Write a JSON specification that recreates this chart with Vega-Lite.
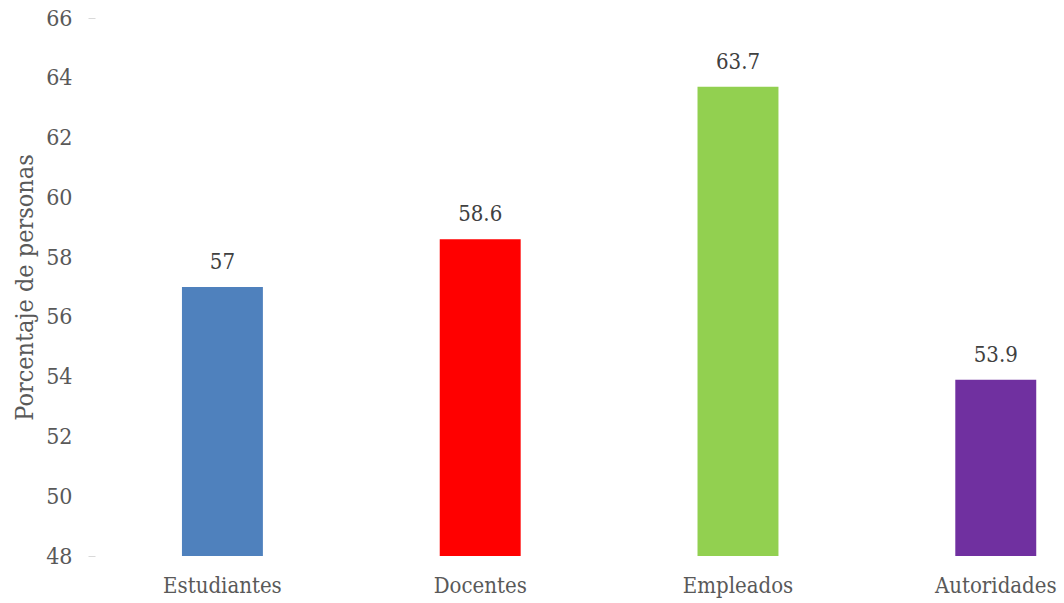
{
  "$schema": "https://vega.github.io/schema/vega-lite/v6.json",
  "width": 969,
  "height": 538,
  "autosize": "none",
  "padding": {"left": 95, "top": 18, "right": 0, "bottom": 47},
  "background": "white",
  "config": {
    "view": {"stroke": null},
    "font": "DejaVu Serif Condensed"
  },
  "data": {
    "values": [
      {"grupo": "Estudiantes", "valor": 57},
      {"grupo": "Docentes", "valor": 58.6},
      {"grupo": "Empleados", "valor": 63.7},
      {"grupo": "Autoridades", "valor": 53.9}
    ]
  },
  "encoding": {
    "x": {
      "field": "grupo",
      "type": "nominal",
      "sort": null,
      "scale": {"paddingInner": 0.686, "paddingOuter": 0.2225, "align": 0.758},
      "axis": {
        "title": null,
        "labelAngle": 0,
        "domain": false,
        "ticks": false,
        "labelPadding": 19,
        "labelFontSize": 22,
        "labelColor": "#595959",
        "labelFont": "DejaVu Serif Condensed"
      }
    },
    "y": {
      "field": "valor",
      "type": "quantitative",
      "scale": {"domain": [48, 66], "nice": false, "zero": false},
      "axis": {
        "title": "Porcentaje de personas",
        "titleFontSize": 25,
        "titleFontWeight": "normal",
        "titleColor": "#595959",
        "titleFont": "DejaVu Serif Condensed",
        "titleX": -71,
        "titleY": 269,
        "titleAngle": -90,
        "titleAlign": "center",
        "titleBaseline": "middle",
        "values": [48, 50, 52, 54, 56, 58, 60, 62, 64, 66],
        "domain": false,
        "grid": false,
        "tickSize": 7,
        "tickColor": {"expr": "datum.value == 48 || datum.value == 66 ? '#d9d9d9' : 'transparent'"},
        "labelPadding": 16,
        "labelFontSize": 23,
        "labelColor": "#595959",
        "labelFont": "DejaVu Serif Condensed"
      }
    }
  },
  "layer": [
    {
      "mark": {"type": "bar", "clip": true},
      "encoding": {
        "color": {
          "field": "grupo",
          "type": "nominal",
          "sort": null,
          "scale": {
            "domain": ["Estudiantes", "Docentes", "Empleados", "Autoridades"],
            "range": ["#4F81BD", "#FF0000", "#92D050", "#7030A0"]
          },
          "legend": null
        }
      }
    },
    {
      "mark": {"type": "text", "baseline": "bottom", "dy": -13, "fontSize": 22, "color": "#404040", "font": "DejaVu Serif Condensed"},
      "encoding": {
        "text": {"field": "valor", "type": "quantitative"}
      }
    }
  ]
}
